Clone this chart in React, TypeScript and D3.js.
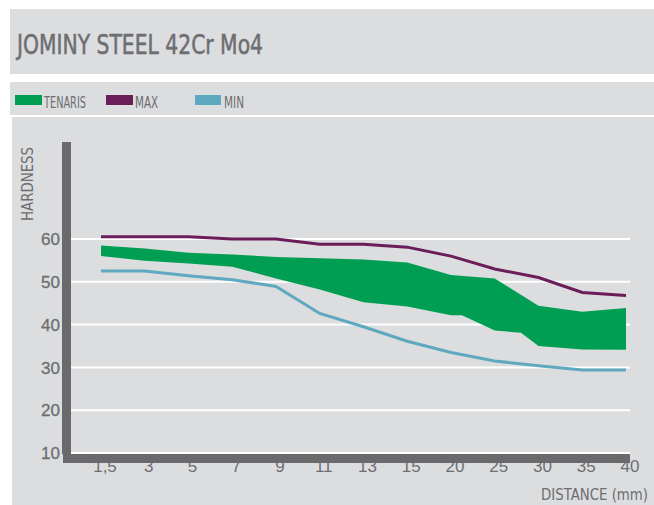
import React from "react";
import * as d3 from "d3";

// distances along the Jominy bar (mm)
const distances = ["1,5", "3", "5", "7", "9", "11", "13", "15", "20", "25", "30", "35", "40"];
const yTicks = [10, 20, 30, 40, 50, 60];

const maxValues = [60.5, 60.5, 60.5, 60, 60, 58.8, 58.8, 58.1, 56, 53, 51, 47.5, 46.8];
const minValues = [52.5, 52.5, 51.4, 50.5, 48.9, 42.6, 39.5, 36.1, 33.5, 31.5, 30.4, 29.4, 29.4];

// tenaris band: index positions (fractional where the band has kinks)
const tenarisUpperIdx = [0, 1, 2, 3, 4, 5, 6, 7, 8, 9, 10, 11, 12];
const tenarisUpper = [58.5, 57.8, 56.8, 56.4, 55.8, 55.5, 55.2, 54.5, 51.6, 50.8, 44.4, 43, 43.9];
const tenarisLowerIdx = [0, 1, 2, 3, 4, 5, 6, 7, 8, 8.25, 9, 9.6, 10, 11, 12];
const tenarisLower = [56, 54.9, 54.3, 53.5, 50.8, 48.2, 45.2, 44.2, 42.2, 42.2, 38.6, 38.1, 35, 34.2, 34.1];

const W = 654;
const H = 505;
const BG = "#dcdddf";
const TEXT = "#6d6e71";
const AXIS = "#6a6a6c";
const GREEN = "#009e52";
const PURPLE = "#6b1d5a";
const BLUE = "#5ea9bf";
const NARROW = "'DejaVu Sans Condensed', 'Liberation Sans', sans-serif";
const NUM = "'Liberation Sans', sans-serif";

export default function App() {
  const x = d3.scaleLinear().domain([0, distances.length - 1]).range([101, 626]);
  const y = d3.scaleLinear().domain([10, 60]).range([453, 239]);

  const line = d3.line<number>().x((_, i) => x(i)).y((d) => y(d));

  const upperPts: [number, number][] = tenarisUpper.map((v, i) => [x(tenarisUpperIdx[i]), y(v)]);
  const lowerPts: [number, number][] = tenarisLower.map((v, i) => [x(tenarisLowerIdx[i]), y(v)]);
  const bandPath = d3.line()([...upperPts, ...lowerPts.slice().reverse()]) + "Z";

  return (
    <svg
      width={W}
      height={H}
      style={{ position: "absolute", left: 0, top: 0, background: "#fff" }}
      fontFamily={NARROW}
    >
      {/* title box */}
      <rect x={10} y={9} width={W - 10} height={65} fill={BG} />
      <text x={17} y={54} fontSize={26} fill={TEXT} stroke={TEXT} strokeWidth={0.5}
        textLength={246} lengthAdjust="spacingAndGlyphs">
        JOMINY STEEL 42Cr Mo4
      </text>

      {/* legend box */}
      <rect x={10} y={82} width={W - 10} height={33} fill={BG} />
      <rect x={15} y={95} width={27} height={10} fill={GREEN} />
      <text x={44} y={108} fontSize={15} fill={TEXT} textLength={42} lengthAdjust="spacingAndGlyphs">TENARIS</text>
      <rect x={106} y={95} width={27} height={10} fill={PURPLE} />
      <text x={135} y={108} fontSize={15} fill={TEXT} textLength={23} lengthAdjust="spacingAndGlyphs">MAX</text>
      <rect x={195} y={95} width={26} height={10} fill={BLUE} />
      <text x={224} y={108} fontSize={15} fill={TEXT} textLength={20} lengthAdjust="spacingAndGlyphs">MIN</text>

      {/* chart box */}
      <rect x={12} y={117} width={W - 12} height={H - 117} fill={BG} />

      {/* gridlines */}
      {yTicks.map((t) => (
        <line key={t} x1={62} x2={630} y1={y(t)} y2={y(t)} stroke="#ffffff" strokeWidth={2} />
      ))}
      {yTicks.map((t) => (
        <text key={"l" + t} x={60} y={y(t)} dy="0.36em" textAnchor="end" fontSize={17} fill={TEXT}
          stroke={TEXT} strokeWidth={0.3} fontFamily={NUM}>
          {t}
        </text>
      ))}

      {/* data */}
      <path d={bandPath} fill={GREEN} />
      <path d={line(maxValues) ?? ""} fill="none" stroke={PURPLE} strokeWidth={3} />
      <path d={line(minValues) ?? ""} fill="none" stroke={BLUE} strokeWidth={3} />

      {/* x tick labels (tops tucked under the axis bar) */}
      {distances.map((d, i) => (
        <text key={d} x={x(i) + 4} y={472} textAnchor="middle" fontSize={17} fill={TEXT}
          fontFamily={NUM}>
          {d}
        </text>
      ))}

      {/* axis bars */}
      <rect x={62} y={142} width={9} height={312} fill={AXIS} />
      <rect x={63} y={454} width={567} height={9} fill={AXIS} />

      {/* axis titles */}
      <text transform="translate(33,221) rotate(-90)" fontSize={15} fill={TEXT}
        textLength={74} lengthAdjust="spacingAndGlyphs">HARDNESS</text>
      <text x={541} y={500} fontSize={15} fill={TEXT}
        textLength={107} lengthAdjust="spacingAndGlyphs">DISTANCE (mm)</text>
    </svg>
  );
}
